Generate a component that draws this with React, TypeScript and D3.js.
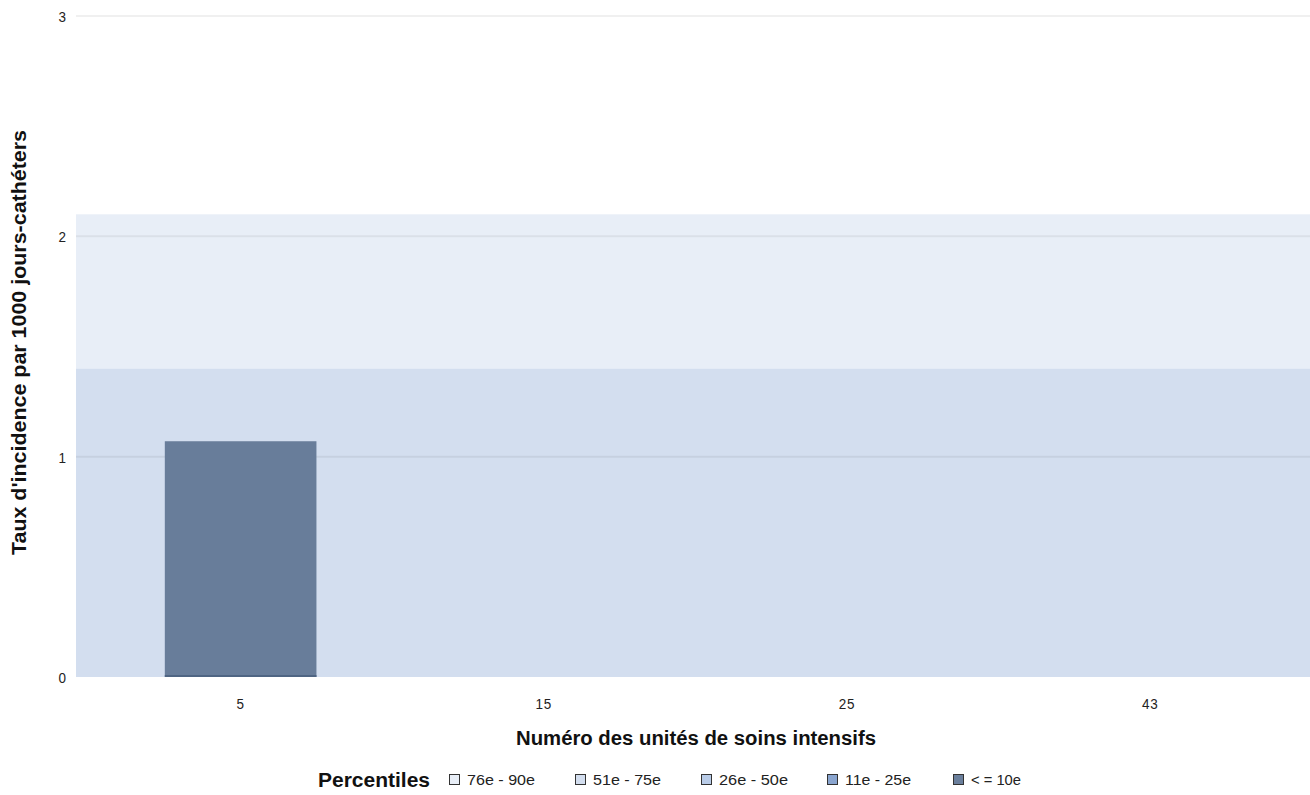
import React from "react";
import * as d3 from "d3";

const units = ["5", "15", "25", "43"];
const rates = [1.07, 0, 0, 0];
const yTicks = [0, 1, 2, 3];
const percentileLabels = ["76e - 90e", "51e - 75e", "26e - 50e", "11e - 25e", "< = 10e"];
const percentileColors = ["#e8eef7", "#d3deef", "#b9cce8", "#8aa5cf", "#6a7f9c"];
const percentileLow = [1.4, 0, 0, 0, 0];
const percentileHigh = [2.1, 1.4, 0, 0, 0];

const W = 1310;
const H = 795;
const tickFont = "Liberation Sans, Arial, sans-serif";
const titleFont = "Liberation Sans, Arial, sans-serif";

export default function App() {
  const y = d3.scaleLinear().domain([0, 3]).range([677, 16]);
  const x = d3.scaleBand<string>().domain(units).range([89, 1302]).paddingInner(0.5).paddingOuter(0.25);
  const legend = d3.scaleBand<string>().domain(percentileLabels).range([449, 1079]);
  const plotL = 76;
  const plotR = 1310;
  const legendW = [68, 68, 69, 66, 50];
  return (
    <svg width={W} height={H} style={{ position: "absolute", left: 0, top: 0, background: "#fff" }}>
      {percentileLabels.map((l, i) =>
        percentileHigh[i] > percentileLow[i] ? (
          <rect key={l} x={plotL} width={plotR - plotL} y={y(percentileHigh[i])} height={y(percentileLow[i]) - y(percentileHigh[i])} fill={percentileColors[i]} />
        ) : null
      )}
      {yTicks.map((t) => (
        <g key={t}>
          {t > 0 && <line x1={plotL} x2={plotR} y1={y(t)} y2={y(t)} stroke="rgba(0,0,0,0.06)" strokeWidth={2} />}
          <text x={66} y={y(t) + 6} textAnchor="end" fontFamily={tickFont} fontSize={15} transform={`translate(66,0) scale(0.9,1) translate(-66,0)`} fill="#222">{t}</text>
        </g>
      ))}
      {units.map((u, i) =>
        rates[i] > 0 ? (
          <g key={u}>
            <rect x={x(u)} width={x.bandwidth()} y={y(rates[i])} height={y(0) - y(rates[i])} fill="#687d9a" />
            <line x1={x(u)} x2={(x(u) as number) + x.bandwidth()} y1={y(0) - 1} y2={y(0) - 1} stroke="#4f6583" strokeWidth={2} />
          </g>
        ) : null
      )}
      {units.map((u) => {
        const cx = (x(u) as number) + x.bandwidth() / 2;
        return (
          <text key={u} x={cx} y={709} textAnchor="middle" fontFamily={tickFont} fontSize={15} transform={`translate(${cx},0) scale(0.9,1) translate(${-cx},0)`} letterSpacing={1} fill="#222">{u}</text>
        );
      })}
      <text x={516} y={745} textLength={360} lengthAdjust="spacingAndGlyphs" fontFamily={titleFont} fontWeight="bold" fontSize={20} fill="#111">Numéro des unités de soins intensifs</text>
      <text transform={`translate(26,555) rotate(-90)`} textLength={425} lengthAdjust="spacingAndGlyphs" fontFamily={titleFont} fontWeight="bold" fontSize={20} fill="#111">Taux d'incidence par 1000 jours-cathéters</text>
      <text x={318} y={787} textLength={112} lengthAdjust="spacingAndGlyphs" fontFamily={titleFont} fontWeight="bold" fontSize={20} fill="#111">Percentiles</text>
      {percentileLabels.map((l, i) => {
        const lx = legend(l) as number;
        return (
          <g key={l}>
            <rect x={lx + 0.5} y={774.5} width={10} height={10} fill={percentileColors[i]} stroke="#333" strokeWidth={1} />
            <text x={lx + 18} y={785} textLength={legendW[i]} lengthAdjust="spacingAndGlyphs" fontFamily={tickFont} fontSize={14} fill="#222">{l}</text>
          </g>
        );
      })}
    </svg>
  );
}
